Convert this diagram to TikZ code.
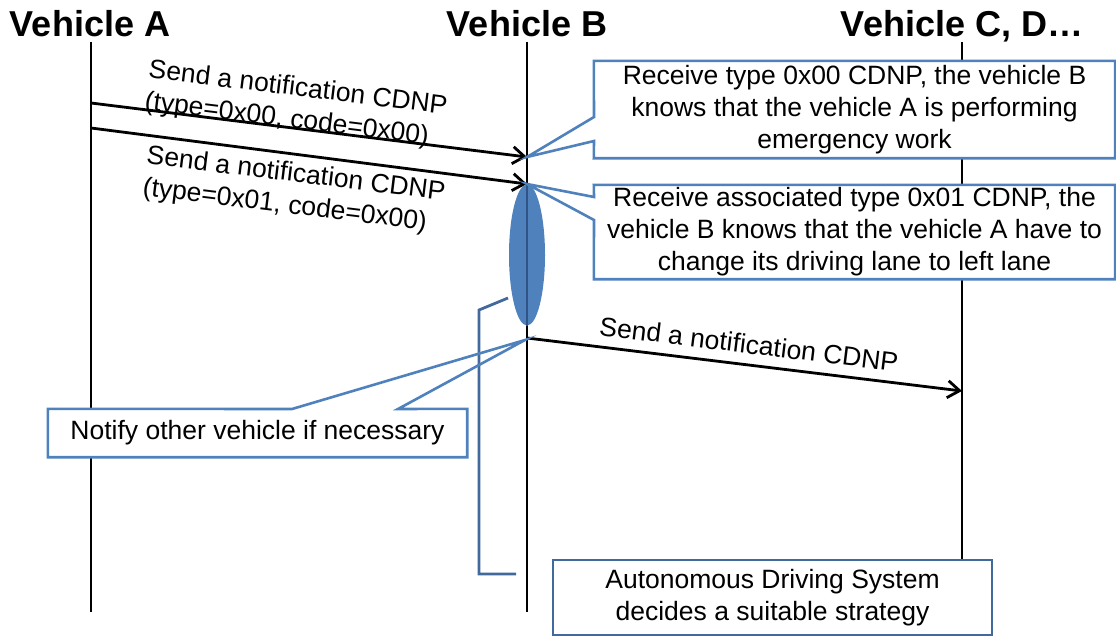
\documentclass[tikz,border=0pt]{standalone}
\usepackage{fontspec}
\setmainfont{Liberation Sans}
\usetikzlibrary{arrows.meta,shapes.geometric}
\definecolor{cbl}{RGB}{79,129,189}
\definecolor{dbl}{RGB}{65,105,155}
\definecolor{ebl}{RGB}{48,84,135}
\begin{document}
\begin{tikzpicture}[x=1pt,y=-1pt,
  life/.style={line width=2.8pt, black},
  msg/.style={line width=2.8pt, black, -{Straight Barb[length=12pt,width=17pt]}},
  txt/.style={font=\fontsize{26.5}{32}\selectfont, align=center, inner sep=0pt},
  head/.style={font=\fontsize{36}{40}\selectfont\bfseries, inner sep=0pt, anchor=base},
  co/.style={draw=cbl, line width=2.6pt, line join=miter},
  cobox/.style={txt, fill=white, draw=none}]
\useasboundingbox (0,0) rectangle (1116,637);
% headers
\node[head] (hA) at (90,36) {Vehicle A};
\node[head] (hB) at (527,36) {Vehicle B};
\node[head] (hC) at (962,36) {Vehicle C, D…};
% lifelines
\coordinate (At) at (91,42);  \coordinate (Ab) at (91,612);
\coordinate (Bt) at (527,42); \coordinate (Bb) at (527,612);
\coordinate (Ct) at (962,42); \coordinate (Cb) at (962,560);
\draw[life] (At) -- (Ab);
\draw[life] (Bt) -- (Bb);
\draw[life] (Ct) -- (Cb);
% messages
\coordinate (a1) at (91,103);  \coordinate (b1) at (527,157);
\coordinate (a2) at (91,128);  \coordinate (b2) at (527,184);
\coordinate (b3) at (527,338); \coordinate (c3) at (962,391);
\draw[msg] (a1) -- (b1);
\draw[msg] (a2) -- (b2);
\draw[msg] (b3) -- (c3);
% activation ellipse
\node[ellipse, fill=cbl, minimum width=36pt, minimum height=141pt, inner sep=0pt] (act) at (527,255) {};
\draw[ebl, line width=2.4pt] (act.north) -- (act.south);
% bracket
\coordinate (br1) at (508,298); \coordinate (br2) at (479,310);
\coordinate (br3) at (479,574); \coordinate (br4) at (516,574);
\draw[dbl, line width=2.8pt] (br1) -- (br2) -- (br3) -- (br4);
% callout 1
\node[cobox, minimum width=521pt, minimum height=97pt] (c1) at (854.5,109.5) {Receive type 0x00 CDNP, the vehicle B\\knows that the vehicle A is performing\\emergency work};
\coordinate (c1p) at (594,117); \coordinate (c1q) at (594,141);
\draw[co] (c1.north west) -- (c1.north east) -- (c1.south east) -- (c1.south west) -- (c1q) -- (b1) -- (c1p) -- cycle;
% callout 2
\node[cobox, minimum width=521pt, minimum height=94pt] (c2) at (854.5,232) {Receive associated type 0x01 CDNP, the\\vehicle B knows that the vehicle A have to\\change its driving lane to left lane};
\coordinate (c2p) at (594,197); \coordinate (c2q) at (594,220);
\draw[co] (c2.north west) -- (c2.north east) -- (c2.south east) -- (c2.south west) -- (c2q) -- (b2) -- (c2p) -- cycle;
% callout 3
\coordinate (tip3) at (525,340);
\node[cobox, minimum width=419pt, minimum height=48pt] (c3box) at (257.5,433) {Notify other vehicle if necessary};
\coordinate (c3p) at (292,409); \coordinate (c3q) at (398,409);
\draw[co] (c3box.north west) -- (c3p) -- (tip3) -- (c3q) -- (c3box.north east) -- (c3box.south east) -- (c3box.south west) -- cycle;
% bottom box
\node[txt, draw=dbl, line width=2.6pt, fill=white, minimum width=439pt, minimum height=75pt] (ads) at (772.5,597.5) {Autonomous Driving System\\decides a suitable strategy};
% message labels
\node[txt, align=left, rotate=-7] (l1) at (296,105) {Send a notification CDNP\\(type=0x00, code=0x00)};
\node[txt, align=left, rotate=-7] (l2) at (294,191) {Send a notification CDNP\\(type=0x01, code=0x00)};
\node[txt, rotate=-7] (l3) at (749,344) {Send a notification CDNP};
\end{tikzpicture}
\end{document}
